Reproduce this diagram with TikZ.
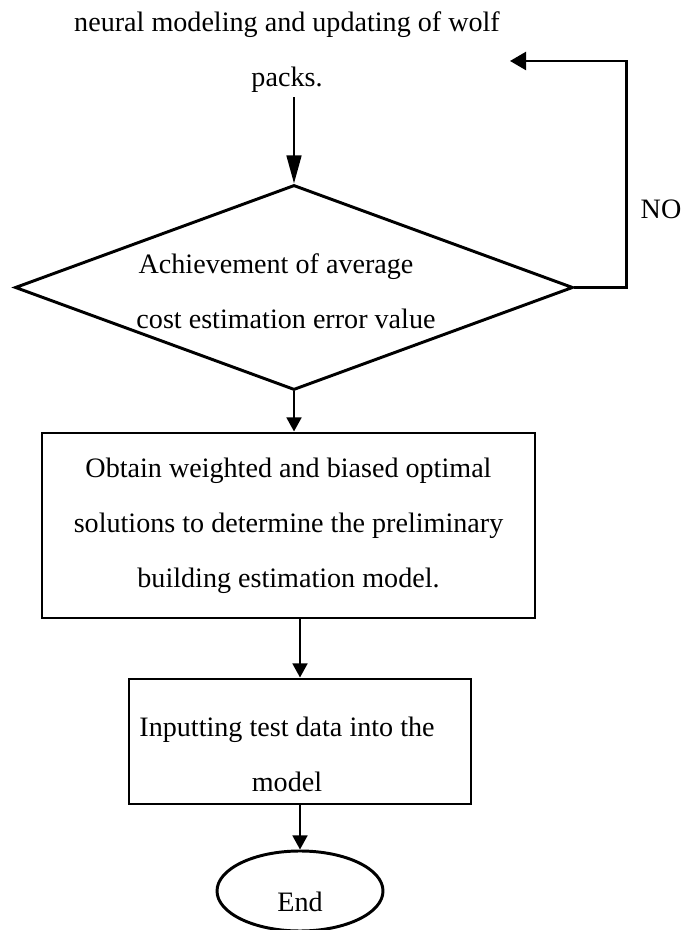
\documentclass[tikz,border=0pt]{standalone}
\usepackage{fontspec}
\setmainfont{Liberation Serif}
\usetikzlibrary{shapes.geometric}
\usetikzlibrary{arrows.meta}

\begin{document}
\begin{tikzpicture}[
    every node/.style={font=\fontsize{20}{39}\selectfont, align=center},
    box/.style={draw, line width=2.1pt, inner sep=0pt},
    flow/.style={line width=1.7pt, -{Triangle[length=10pt,width=10.5pt]}}]
  \useasboundingbox (0, 0) rectangle (17.025, 23.25);

  % Wolf pack update
  \node (update) at (7.175, 21.95) {neural modeling and updating of wolf\\packs.};

  % Decision
  \node [box, diamond, minimum width=13.95cm, minimum height=5.125cm] (check) at (7.35, 16.0625) {};
  \node (checktext) at (7.15, 15.975) {Achievement of average\hspace*{0.5cm}\\cost estimation error value};
  \coordinate (back) at (12.75, 21.725);
  \node (no) at (16.525, 18.025) {NO};

  % Boxes
  \node [box, minimum width=12.325cm, minimum height=4.625cm] (optimum) at (7.2125, 10.1125)
    {Obtain weighted and biased optimal\\solutions to determine the preliminary\\building estimation model.};
  \node [box, minimum width=8.55cm, minimum height=3.125cm] (test) at (7.5, 4.7125) {};
  \node (testtext) at (7.175, 4.4) {Inputting test data into the\\model};
  \node [box, ellipse, minimum width=4.15cm, minimum height=2cm] (stop) at (7.5, 0.975) {};
  \node (stoptext) at (7.5, 0.7) {End};

  % Arrows
  \draw [flow, -{Triangle[length=20pt,width=10.5pt]}] (update.south -| check.north) -- (check.north);
  \draw [flow, -{Triangle[length=11.4pt,width=12.8pt]}] (check.east) -- ++(1.3, 0) |- (back);
  \draw [flow] (check.south) -- (check.south |- optimum.north);
  \draw [flow] (test.north |- optimum.south) -- (test.north);
  \draw [flow] (test.south) -- (stop.north);
\end{tikzpicture}
\end{document}
